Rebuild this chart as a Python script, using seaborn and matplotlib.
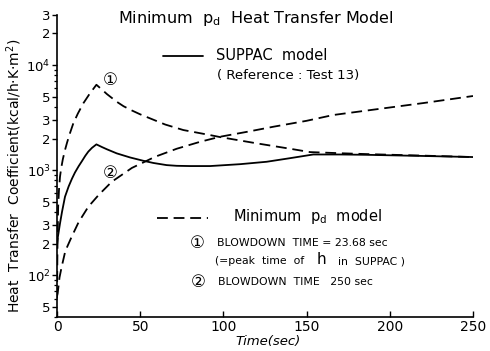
import matplotlib
matplotlib.use("Agg")
import matplotlib.pyplot as plt
import seaborn as sns
import numpy as np
from matplotlib.ticker import FixedLocator, FixedFormatter, NullFormatter

# ---- data ----
t_suppac = [0, 0.5, 1.8, 3, 4.8, 7, 9, 10.8, 13, 15, 17, 18.8, 21, 23.68, 27, 30, 35.9, 40, 44, 51.9, 58,
            65.9, 72, 80, 92, 110, 126, 140, 154, 170, 186, 220, 250]
h_suppac = [190, 230, 311, 400, 558, 700, 830, 950, 1090, 1220, 1370, 1500, 1630, 1760, 1660, 1580, 1445,
            1380, 1320, 1228, 1170, 1117, 1100, 1094, 1094, 1140, 1202, 1300, 1410, 1410, 1400, 1365, 1333]

t_bd1 = [0, 0.3, 0.7, 1.2, 1.8, 2.5, 3.5, 4.8, 6, 7.5, 9.8, 12.5, 15.8, 19.5, 23.68, 27, 30, 35.9, 40, 45,
         50, 55.9, 65, 75.9, 92, 98, 120, 140, 152, 170, 186, 220, 250]
h_bd1 = [60, 200, 450, 650, 865, 1040, 1270, 1553, 1820, 2180, 2790, 3450, 4325, 5300, 6500, 5850, 5300,
         4480, 4060, 3700, 3400, 3113, 2720, 2410, 2157, 2065, 1800, 1600, 1486, 1450, 1422, 1375, 1333]

t_bd2 = [0, 0.4, 1.5, 2.8, 5, 8.8, 13, 18.8, 25, 32.9, 45, 58.9, 72, 86, 98, 115, 130, 150, 166, 200, 220, 250]
h_bd2 = [63, 67, 95, 120, 170, 232, 320, 448, 580, 775, 1050, 1340, 1600, 1862, 2080, 2330, 2590, 2950,
         3350, 3950, 4350, 5080]

x_ticks = [0, 50, 100, 150, 200, 250]
y_major = [50, 100, 200, 300, 500, 1000, 2000, 3000, 5000, 10000, 20000, 30000]
y_major_labels = ["5", "$10^{2}$", "2", "3", "5", "$10^{3}$", "2", "3", "5", "$10^{4}$", "2", "3"]
y_minor = [40, 60, 70, 80, 90, 400, 600, 700, 800, 900, 4000, 6000, 7000, 8000, 9000]

sns.set_style("ticks")
plt.rcParams['font.family'] = ['DejaVu Sans', 'Noto Sans CJK JP']
plt.rcParams['mathtext.fontset'] = 'dejavusans'
for k in ["text.color", "axes.labelcolor", "xtick.color", "ytick.color", "axes.edgecolor"]:
    plt.rcParams[k] = "black"

W, H = 490, 351
fig = plt.figure(figsize=(4.9, 3.51), dpi=100)
ax = fig.add_axes([57 / W, 1 - 317 / H, (473 - 57) / W, (317 - 15) / H])

dash = (0, (6, 3.2))
sns.lineplot(x=t_suppac, y=h_suppac, ax=ax, color="black", lw=1.3, linestyle="-")
sns.lineplot(x=t_bd1, y=h_bd1, ax=ax, color="black", lw=1.3, linestyle=dash)
sns.lineplot(x=t_bd2, y=h_bd2, ax=ax, color="black", lw=1.3, linestyle=dash)

ax.set_yscale("log")
ax.set_xlim(0, 250)
ax.set_ylim(40, 30000)
ax.yaxis.set_major_locator(FixedLocator(y_major))
ax.yaxis.set_major_formatter(FixedFormatter(y_major_labels))
ax.yaxis.set_minor_locator(FixedLocator(y_minor))
ax.yaxis.set_minor_formatter(NullFormatter())
ax.set_xticks(x_ticks)
ax.set_xticklabels([str(v) for v in x_ticks])
ax.tick_params(axis="y", which="major", direction="out", length=3.5, width=1, labelsize=9.5, pad=1)
ax.tick_params(axis="y", which="minor", direction="out", length=2.5, width=0.9)
ax.tick_params(axis="x", which="major", direction="in", length=4, width=1, labelsize=10, pad=2)
sns.despine(ax=ax)
for s in ["left", "bottom"]:
    ax.spines[s].set_linewidth(1.2)
    ax.spines[s].set_color("black")
ax.set_xlabel("")
ax.set_ylabel("")

def ft(px, py, s, **kw):
    fig.text(px / W, 1 - py / H, s, color="black", **kw)

ft(256, 18, r"Minimum  $\mathregular{p_d}$  Heat Transfer Model", ha="center", va="center", fontsize=11.5)
ft(14, 176, "Heat  Transfer  Coefficient(kcal/h$\\cdot$K$\\cdot$m$^{2}$)", rotation=90,
   ha="center", va="center", fontsize=10)
ft(268, 341, "Time(sec)", ha="center", va="center", fontsize=9.5, style="italic")

# legend-like annotations
fig.add_artist(plt.Line2D([163 / W, 203 / W], [1 - 56 / H, 1 - 56 / H], color="black", lw=1.3))
ft(216, 56, "SUPPAC  model", ha="left", va="center", fontsize=10.5)
ft(217, 75, "( Reference : Test 13)", ha="left", va="center", fontsize=9.5)

fig.add_artist(plt.Line2D([157 / W, 208 / W], [1 - 218 / H, 1 - 218 / H], color="black", lw=1.3,
                          linestyle=dash))
ft(233, 217, r"Minimum  $\mathregular{p_d}$  model", ha="left", va="center", fontsize=10.5)

ft(197, 243, "①", ha="center", va="center", fontsize=12)
ft(217, 243, "BLOWDOWN  TIME = 23.68 sec", ha="left", va="center", fontsize=7.8)
ft(215, 261, "(=peak  time  of", ha="left", va="center", fontsize=7.8)
ft(317, 259, "h", ha="left", va="center", fontsize=11)
ft(338, 261, "in  SUPPAC )", ha="left", va="center", fontsize=7.8)
ft(198, 282, "②", ha="center", va="center", fontsize=12)
ft(218, 282, "BLOWDOWN  TIME   250 sec", ha="left", va="center", fontsize=7.8)

ft(110, 80, "①", ha="center", va="center", fontsize=12)
ft(110, 173, "②", ha="center", va="center", fontsize=12)

fig.savefig("out.png", dpi=100, facecolor="white")
